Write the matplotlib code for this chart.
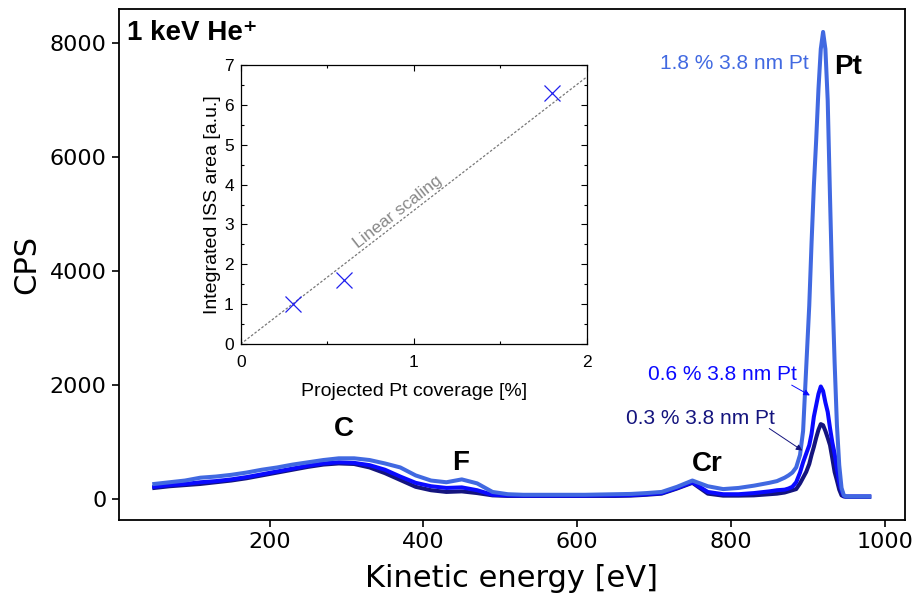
import matplotlib
matplotlib.use("Agg")
import matplotlib.pyplot as plt

# ---------------- data ----------------
energy = [50, 70, 90, 110, 130, 150, 170, 190, 210, 230, 250, 270, 290, 310, 330, 350,
          370, 390, 410, 430, 450, 470, 490, 510, 530, 550, 570, 590, 610, 630, 650,
          670, 690, 710, 730, 750, 770, 790, 810, 830, 850, 860, 870, 875, 880, 885,
          890, 894, 898, 902, 905, 908, 911, 914, 917, 920, 923, 926, 929, 932, 935,
          938, 941, 944, 947, 950, 960, 970, 980]

cps_18 = [270, 300, 330, 380, 400, 430, 470, 520, 560, 610, 650, 690, 720, 720, 690, 630,
          560, 420, 330, 300, 350, 280, 130, 90, 80, 80, 80, 80, 80, 85, 90,
          95, 110, 130, 220, 330, 230, 180, 200, 240, 290, 320, 380, 420, 470, 560,
          780, 1200, 2300, 3400, 4500, 5500, 6300, 7200, 7900, 8200, 7900, 7000, 5300, 3700, 2400,
          1300, 600, 200, 70, 50, 50, 50, 50]

cps_06 = [220, 250, 270, 300, 320, 350, 390, 440, 490, 540, 590, 630, 650, 640, 600, 520,
          400, 290, 230, 200, 210, 160, 80, 70, 65, 65, 65, 65, 65, 70, 70,
          75, 90, 110, 200, 300, 130, 90, 90, 110, 140, 160, 170, 190, 220, 300,
          470, 650, 800, 950, 1150, 1450, 1650, 1850, 1980, 1900, 1700, 1534, 1250, 1000, 800,
          530, 300, 150, 60, 50, 50, 50, 50]

cps_03 = [200, 230, 250, 270, 300, 330, 370, 420, 470, 520, 570, 610, 630, 620, 560, 460,
          340, 220, 160, 130, 140, 110, 70, 60, 60, 60, 60, 60, 60, 60, 60,
          65, 80, 100, 190, 290, 100, 65, 65, 70, 90, 100, 120, 140, 160, 180,
          280, 380, 480, 620, 780, 920, 1080, 1220, 1320, 1300, 1200, 1080, 950, 720, 480,
          330, 170, 70, 50, 45, 45, 45, 45]

coverage = [0.3, 0.6, 1.8]
iss_area = [1.0, 1.6, 6.3]
linear_x = [0, 2]
linear_y = [0, 6.7]

series_labels = ["0.3 % 3.8 nm Pt", "0.6 % 3.8 nm Pt", "1.8 % 3.8 nm Pt"]
peak_labels = ["C", "F", "Cr", "Pt"]

c18 = "#4169e1"
c06 = "#0a0aff"
c03 = "#14147e"

arial = ["Liberation Sans", "DejaVu Sans"]

fig = plt.figure(figsize=(9.18, 5.95), dpi=100)
ax = fig.add_axes([0.1291, 0.126, 0.8567, 0.8594])

ax.plot(energy, cps_03, color=c03, lw=2.9)
ax.plot(energy, cps_06, color=c06, lw=2.9)
ax.plot(energy, cps_18, color=c18, lw=2.9)

ax.set_xticks([200, 400, 600, 800, 1000])
ax.set_yticks([0, 2000, 4000, 6000, 8000])
ax.tick_params(axis="both", labelsize=16, length=5, width=1.2, direction="out")
for s in ax.spines.values():
    s.set_linewidth(1.3)
ax.set_xlabel("Kinetic energy [eV]", fontsize=22, labelpad=9)
ax.set_ylabel("CPS", fontsize=22, labelpad=6)

ax.text(0.011, 0.978, "1 keV He\u207a", transform=ax.transAxes, ha="left", va="top",
        fontsize=20, fontweight="bold", family=arial)
pk_pos = [(297, 1234), (449, 635), (769, 617), (952, 7582)]
for lab, (xx, yy) in zip(peak_labels, pk_pos):
    ax.text(xx, yy, lab, ha="center", va="center", fontsize=20, fontweight="bold", family=arial)

ax.text(804, 7653, series_labels[2], color=c18, ha="center", va="center", fontsize=15, family=arial)
ax.text(789, 2187, series_labels[1], color=c06, ha="center", va="center", fontsize=15, family=arial)
ax.text(760, 1411, series_labels[0], color=c03, ha="center", va="center", fontsize=15, family=arial)
ax.annotate("", xy=(906, 1799), xytext=(876, 2028),
            arrowprops=dict(arrowstyle="-|>", color=c06, lw=0.7, mutation_scale=9))
ax.annotate("", xy=(896, 829), xytext=(847, 1270),
            arrowprops=dict(arrowstyle="-|>", color=c03, lw=0.7, mutation_scale=9))

# ---------------- inset ----------------
ins = fig.add_axes([0.2622, 0.4218, 0.3769, 0.4689])
ins.plot(linear_x, linear_y, ls=(0, (2, 1.5)), color="#777777", lw=0.9)
ins.plot(coverage, iss_area, ls="none", marker="x", color="#2020ee", ms=11, mew=0.9)
ins.set_xlim(0, 2)
ins.set_ylim(0, 7)
ins.set_xticks([0, 1, 2])
ins.set_xticks([0.5, 1.5], minor=True)
ins.set_yticks(range(0, 8))
ins.set_yticks([0.5 + i for i in range(7)], minor=True)
ins.tick_params(which="both", direction="in", top=True, right=True, width=0.8)
ins.tick_params(which="major", length=4, labelsize=12.5)
ins.tick_params(axis="x", which="major", pad=8)
ins.tick_params(axis="y", which="major", pad=5)
ins.tick_params(which="minor", length=2.5)
for lab in ins.get_xticklabels() + ins.get_yticklabels():
    lab.set_family(arial)
for s in ins.spines.values():
    s.set_linewidth(0.9)
ins.set_xlabel("Projected Pt coverage [%]", fontsize=14, family=arial, labelpad=9)
ins.set_ylabel("Integrated ISS area [a.u.]", fontsize=14, family=arial, labelpad=2)
ins.text(0.91, 3.32, "Linear scaling", rotation=38, rotation_mode="anchor", color="#888888",
         ha="center", va="center", fontsize=12.5, family=arial)

fig.savefig("out.png", dpi=100)
